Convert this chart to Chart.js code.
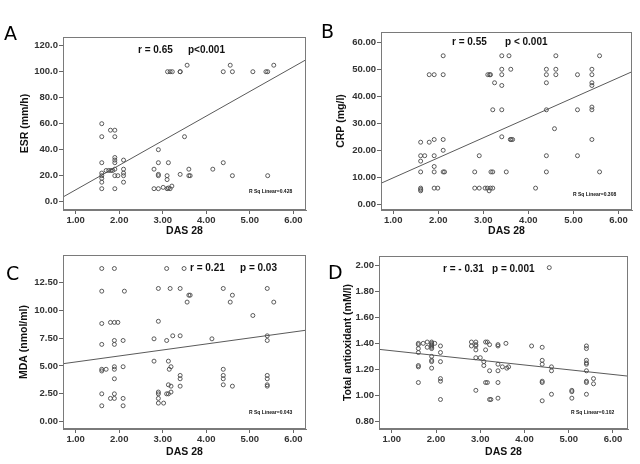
<!DOCTYPE html>
<html><head><meta charset="utf-8">
<script src="https://cdn.jsdelivr.net/npm/chart.js@4.4.0/dist/chart.umd.min.js"></script>
<style>
html,body{margin:0;padding:0;background:#fff;}
#wrap{position:relative;width:640px;height:464px;overflow:hidden;background:#fff;}
canvas{position:absolute;left:0;top:0;width:640px;height:464px;}
</style></head><body><div id="wrap">
<canvas id="cA" width="640" height="464"></canvas>
<canvas id="cB" width="640" height="464"></canvas>
<canvas id="cC" width="640" height="464"></canvas>
<canvas id="cD" width="640" height="464"></canvas>
</div>
<script>
// ---------- data ----------
const dasA = [1.60,1.60,1.60,1.60,1.60,1.60,1.60,1.60, 1.70,1.76,1.81,1.85, 1.80, 1.90,1.90,1.90,1.90,1.90,1.90,1.90,1.90, 1.97, 2.10,2.10,2.10,2.10,2.10, 2.80,2.80, 2.90,2.90,2.90,2.90,2.90, 3.01, 3.10,3.10,3.10, 3.13,3.13, 3.17,3.17, 3.21, 3.11, 3.22, 3.40,3.40,3.40, 3.50, 3.56, 3.60,3.60, 3.63, 4.15, 4.39,4.39, 4.55, 4.60,4.60, 5.07, 5.37, 5.41,5.41, 5.55];
const esr  = [60,50,30,22,20,18,15,10, 24,24,24,24, 55, 55,50,34,32,30,25,20,10, 20, 32,25,22,20,15, 25,10, 40,30,21,20,10, 11, 20,17,10, 30,10.5, 10,100, 12, 100, 100, 100,100,21, 50, 105, 25,20, 20, 25, 100,30, 105, 100,20, 100, 100, 100,20, 105];

const dasB = [1.61,1.61,1.61,1.61,1.61,1.61,1.61, 1.70, 1.80,1.80, 1.91,1.91,1.91,1.91,1.91,1.91, 1.99, 2.11,2.11,2.11,2.11,2.11, 2.14, 2.81,2.81, 2.91,2.91, 3.04,3.09,3.13,3.16,3.21, 3.10,3.14,3.16, 3.17,3.21, 3.21, 3.25, 3.41,3.41,3.41,3.41,3.41,3.41, 3.51, 3.57, 3.61, 3.60,3.62,3.65, 4.16, 4.40,4.40,4.40,4.40,4.40,4.40, 4.58, 4.61,4.61,4.61, 5.09,5.09,5.09, 5.41,5.41,5.41,5.41,5.41,5.41,5.41, 5.58,5.58];
const crp  = [23,18,16,12,6,5.5,5, 18, 48,23, 48,24,18,14,12,6, 6, 55,48,24,20,12, 12, 12,6, 18,6, 6,6,5,6,6, 48,48,48, 12,12, 35, 45, 55,50,48,44,35,25, 12, 55, 50, 24,24,24, 6, 50,48,45,35,18,12, 28, 55,50,48, 48,35,18, 50,48,45,44,36,35,24, 55,12];

const dasC = [1.60,1.60,1.60,1.60,1.60,1.60,1.60,1.60, 1.70, 1.80,1.80, 1.89,1.89,1.89,1.89,1.89,1.89,1.89,1.89,1.89, 1.97, 2.09,2.09,2.09,2.09, 2.12, 2.80,2.80, 2.90,2.90,2.90,2.90,2.90,2.90, 3.02, 3.09,3.09,3.09, 3.13,3.13,3.13, 3.15, 3.17, 3.19,3.19,3.19, 3.23, 3.40,3.40,3.40,3.40,3.40, 3.49, 3.56, 3.60,3.63, 4.13, 4.39,4.39,4.39,4.39,4.39, 4.55, 4.60,4.60, 5.07, 5.40,5.40,5.40,5.40,5.40,5.40,5.40, 5.55];
const mda  = [13.73,11.7,8.8,6.93,4.7,4.55,2.5,1.43, 4.7, 8.9,2.09, 13.73,8.9,7.28,6.93,4.93,4.7,3.85,2.5,2.09, 8.9, 7.28,4.93,2.09,1.43, 11.7, 7.43,5.43, 11.94,9.0,2.66,2.5,2.09,1.67, 1.67, 13.73,7.28,2.5, 5.43,3.31,2.5, 4.7, 11.94, 4.93,3.19,2.66, 7.7, 11.94,7.7,4.15,3.85,3.19, 13.73, 10.72, 11.34,11.34, 7.43, 11.94,4.7,4.15,3.85,3.31, 10.72, 11.34,3.19, 9.52, 11.94,7.7,7.28,4.15,3.85,3.31,3.19, 10.72];

const dasD = [1.60,1.60,1.60,1.60,1.60,1.60,1.60, 1.71, 1.80,1.80, 1.90,1.90,1.90,1.90,1.90,1.90,1.90,1.90,1.90,1.90, 1.97, 2.10,2.10,2.10,2.10,2.10,2.10, 2.80,2.80, 2.90,2.90,2.90,2.90,2.90,2.90, 3.00, 3.08,3.08, 3.12,3.12,3.12, 3.16,3.16, 3.21,3.21,3.21, 3.24, 3.40,3.40,3.40,3.40,3.40,3.40, 3.50, 3.58, 3.60, 3.64, 4.16, 4.40,4.40,4.40,4.40,4.40,4.40, 4.56, 4.61,4.61,4.61, 5.07,5.07,5.07, 5.40,5.40,5.40,5.40,5.40,5.40,5.40,5.40,5.40, 5.56,5.56];
const tac  = [1.40,1.39,1.36,1.33,1.23,1.22,1.10, 1.40, 1.41,1.37, 1.41,1.40,1.39,1.38,1.37,1.36,1.30,1.27,1.26,1.21, 1.40, 1.38,1.33,1.26,1.13,1.11,0.97, 1.41,1.38, 1.41,1.39,1.38,1.35,1.29,1.04, 1.29, 1.26,1.23, 1.41,1.35,1.10, 1.41,1.10, 1.39,1.19,0.97, 0.97, 1.39,1.38,1.24,1.19,1.10,0.98, 1.22, 1.40, 1.21, 1.22, 1.38, 1.37,1.27,1.24,1.11,1.10,0.96, 1.98, 1.22,1.19,1.01, 1.04,1.03,0.98, 1.38,1.36,1.27,1.25,1.24,1.19,1.11,1.10,1.01, 1.13,1.09];

// fit lines (end points)
const fitAx = [0.71, 6.29], fitAy = [3.6, 109.2];
const fitBx = [0.73, 6.30], fitBy = [7.8, 49.1];
const fitCx = [0.71, 6.29], fitCy = [5.2, 8.2];
const fitDx = [0.71, 6.34], fitDy = [1.354, 1.149];

// ticks
const xTicks  = [1,2,3,4,5,6];
const xLabels = ['1.00','2.00','3.00','4.00','5.00','6.00'];
const yTicksA = [0,20,40,60,80,100,120];
const yLabelsA = ['0.0','20.0','40.0','60.0','80.0','100.0','120.0'];
const yTicksB = [0,10,20,30,40,50,60];
const yLabelsB = ['0.00','10.00','20.00','30.00','40.00','50.00','60.00'];
const yTicksC = [0,2.5,5,7.5,10,12.5];
const yLabelsC = ['0.00','2.50','5.00','7.50','10.00','12.50'];
const yTicksD = [0.8,1.0,1.2,1.4,1.6,1.8,2.0];
const yLabelsD = ['0.80','1.00','1.20','1.40','1.60','1.80','2.00'];

// ---------- drawing ----------
const FONT = '"Liberation Sans", Arial, sans-serif';
const deco = {
  id: 'deco',
  afterDraw(chart, args, o) {
    const {ctx, chartArea: a} = chart;
    ctx.save();
    ctx.strokeStyle = '#7a7a7a'; ctx.lineWidth = 1;
    const L = Math.round(a.left) + 0.5, T = Math.round(a.top) + 0.5;
    ctx.strokeRect(L, T, Math.round(a.right) - Math.round(a.left) - 1, Math.round(a.bottom) - Math.round(a.top) - 1);
    ctx.fillStyle = '#000';
    ctx.textAlign = 'left';
    ctx.textBaseline = 'alphabetic';
    ctx.font = '19px "DejaVu Sans", sans-serif';
    ctx.fillText(o.letter, o.letterX, o.letterY);
    ctx.fillStyle = '#111';
    ctx.textBaseline = 'middle';
    ctx.font = 'bold 10px ' + FONT;
    ctx.fillText(o.r, o.rX, o.textY);
    ctx.fillText(o.p, o.pX, o.textY);
    ctx.font = 'bold 5px ' + FONT;
    ctx.fillText(o.rsq, o.rsqX, o.rsqY);
    ctx.restore();
  }
};

function panel(id, xs, ys, lx, ly, cfg) {
  const lh = 10.5 * 1.2;
  const axLeft = cfg.yTitleX - lh / 2;
  const yW = cfg.area[0] - axLeft;
  const axBottom = cfg.xTitleY + lh / 2;
  const xH = axBottom - cfg.area[3];
  const tickFont = {family: FONT, size: 9.5, weight: 'bold'};
  const titleFont = {family: FONT, size: 10.5, weight: 'bold'};
  new Chart(document.getElementById(id), {
    type: 'scatter',
    data: {datasets: [
      {data: xs.map((x, i) => ({x, y: ys[i]})), pointRadius: 2.0, pointBorderColor: '#4a4a4a',
       pointBackgroundColor: 'rgba(255,255,255,0)', pointBorderWidth: 0.9},
      {data: lx.map((x, i) => ({x, y: ly[i]})), showLine: true, borderColor: '#5a5a5a', borderWidth: 1, pointRadius: 0}
    ]},
    options: {
      responsive: false, animation: false, events: [],
      layout: {padding: {left: axLeft, top: cfg.area[1], right: 640 - cfg.area[2], bottom: 464 - axBottom}},
      plugins: {legend: {display: false}, tooltip: {enabled: false}, deco: cfg.deco},
      scales: {
        x: {
          type: 'linear', min: cfg.xr[0], max: cfg.xr[1],
          afterBuildTicks: ax => { ax.ticks = xTicks.map(v => ({value: v})); },
          afterFit: ax => { ax.height = xH; },
          ticks: {callback: (v, i) => xLabels[i], font: tickFont, color: '#333', padding: 1, maxRotation: 0, autoSkip: false},
          grid: {drawOnChartArea: false, tickLength: 4, color: '#666'},
          border: {color: '#7a7a7a'},
          title: {display: true, text: 'DAS 28', font: titleFont, color: '#111', padding: 0}
        },
        y: {
          type: 'linear', min: cfg.yr[0], max: cfg.yr[1],
          afterBuildTicks: ax => { ax.ticks = cfg.yTicks.map(v => ({value: v})); },
          afterFit: ax => { ax.width = yW; },
          ticks: {callback: (v, i) => cfg.yLabels[i], font: tickFont, color: '#333', padding: 1, autoSkip: false},
          grid: {drawOnChartArea: false, tickLength: 4, color: '#666'},
          border: {color: '#7a7a7a'},
          title: {display: true, text: cfg.yTitle, font: titleFont, color: '#111', padding: 0}
        }
      }
    },
    plugins: [deco]
  });
}

panel('cA', dasA, esr, fitAx, fitAy, {
  area: [63, 37, 306, 210], xr: [0.71, 6.29], yr: [-6.4, 126.7],
  yTicks: yTicksA, yLabels: yLabelsA, yTitle: 'ESR (mm/h)', yTitleX: 25, xTitleY: 231,
  deco: {letter: 'A', letterX: 4, letterY: 40, r: 'r = 0.65', rX: 138, p: 'p<0.001', pX: 188, textY: 50,
         rsq: 'R Sq Linear=0.428', rsqX: 249, rsqY: 192}
});
panel('cB', dasB, crp, fitBx, fitBy, {
  area: [381, 32, 632, 210], xr: [0.73, 6.30], yr: [-2.1, 63.8],
  yTicks: yTicksB, yLabels: yLabelsB, yTitle: 'CRP (mg/l)', yTitleX: 341, xTitleY: 231,
  deco: {letter: 'B', letterX: 321, letterY: 38, r: 'r = 0.55', rX: 452, p: 'p < 0.001', pX: 505, textY: 42,
         rsq: 'R Sq Linear=0.308', rsqX: 573, rsqY: 195}
});
panel('cC', dasC, mda, fitCx, fitCy, {
  area: [63, 255, 306, 429], xr: [0.71, 6.29], yr: [-0.65, 14.94],
  yTicks: yTicksC, yLabels: yLabelsC, yTitle: 'MDA (nmol/ml)', yTitleX: 24, xTitleY: 452,
  deco: {letter: 'C', letterX: 6, letterY: 280, r: 'r = 0.21', rX: 190, p: 'p = 0.03', pX: 240, textY: 268,
         rsq: 'R Sq Linear=0.043', rsqX: 249, rsqY: 413}
});
panel('cD', dasD, tac, fitDx, fitDy, {
  area: [379, 256, 628, 429], xr: [0.71, 6.34], yr: [0.744, 2.069],
  yTicks: yTicksD, yLabels: yLabelsD, yTitle: 'Total antioxidant (mM/l)', yTitleX: 348, xTitleY: 452,
  deco: {letter: 'D', letterX: 328, letterY: 279, r: 'r = - 0.31', rX: 443, p: 'p = 0.001', pX: 492, textY: 269,
         rsq: 'R Sq Linear=0.102', rsqX: 571, rsqY: 413}
});
</script></body></html>
